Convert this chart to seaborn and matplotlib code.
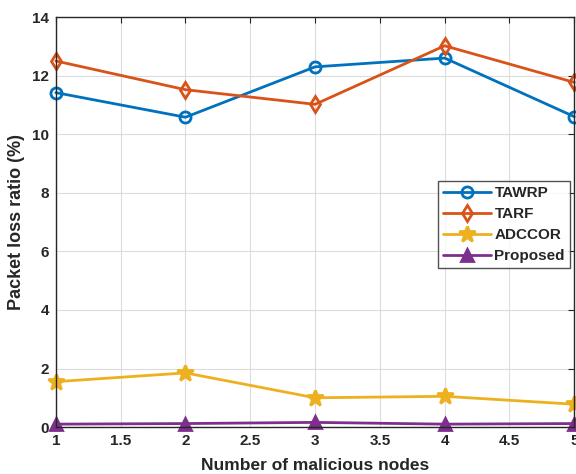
import pandas as pd
import seaborn as sns
import matplotlib.pyplot as plt

# data
nodes    = [1, 2, 3, 4, 5]
tawrp    = [11.42, 10.58, 12.30, 12.60, 10.60]
tarf     = [12.50, 11.52, 11.02, 13.02, 11.77]
adccor   = [1.55, 1.85, 1.00, 1.05, 0.78]
proposed = [0.10, 0.12, 0.16, 0.10, 0.12]

sns.set_style("whitegrid")
plt.rcParams['font.family'] = ['Liberation Sans', 'DejaVu Sans']
plt.rcParams['font.weight'] = 'bold'

fig = plt.figure(figsize=(5.76, 4.74), dpi=100)
ax = fig.add_axes([0.097, 0.099, 0.9, 0.865])

series = [
    ("TAWRP", tawrp, "#0072BD", "o", "none"),
    ("TARF", tarf, "#D95319", "d", "none"),
    ("ADCCOR", adccor, "#EDB120", "*", "#EDB120"),
    ("Proposed", proposed, "#7E2F8E", "^", "#7E2F8E"),
]

for name, vals, col, mk, fc in series:
    df = pd.DataFrame({"x": nodes, "y": vals})
    sns.lineplot(data=df, x="x", y="y", ax=ax, color=col, linewidth=2,
                 marker=mk, markersize=12 if mk == "*" else 8,
                 markerfacecolor=fc, markeredgecolor=col, markeredgewidth=2,
                 label=name, clip_on=False)

ax.set_xlim(1, 5)
ax.set_ylim(0, 14)
ax.set_xticks([1, 1.5, 2, 2.5, 3, 3.5, 4, 4.5, 5])
ax.set_xticklabels(["1", "1.5", "2", "2.5", "3", "3.5", "4", "4.5", "5"])
ax.set_yticks([0, 2, 4, 6, 8, 10, 12, 14])
ax.tick_params(axis="both", labelsize=11, direction="in", length=4,
               top=True, right=True, colors="#262626", pad=5)
for lab in ax.get_xticklabels() + ax.get_yticklabels():
    lab.set_fontweight("bold")

ax.grid(True, color="#dcdcdc", linewidth=0.8)
for sp in ax.spines.values():
    sp.set_color("#262626")
    sp.set_linewidth(1)

ax.set_xlabel("Number of malicious nodes", fontsize=12.5, fontweight="bold",
              color="#262626", labelpad=7)
ax.set_ylabel("Packet loss ratio (%)", fontsize=13, fontweight="bold",
              color="#262626", labelpad=5)

leg = ax.legend(loc="upper left", bbox_to_anchor=(0.737, 0.6), fontsize=11,
                frameon=True, fancybox=False, edgecolor="#262626",
                borderpad=0.35, labelspacing=0.45, handlelength=3.1,
                handletextpad=0.25, borderaxespad=0)
leg.get_frame().set_linewidth(1)
for t in leg.get_texts():
    t.set_fontweight("bold")

fig.savefig("out.png", dpi=100)
